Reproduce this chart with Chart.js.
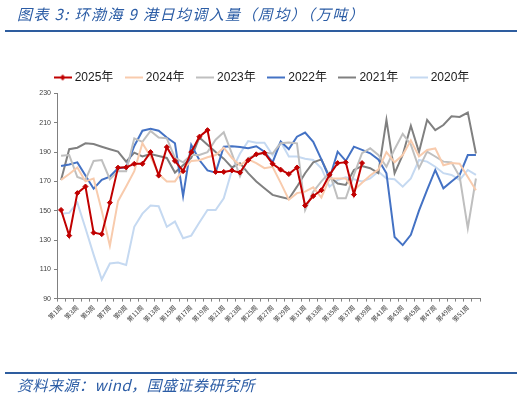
<!DOCTYPE html>
<html>
<head>
<meta charset="utf-8">
<script src="https://cdn.jsdelivr.net/npm/chart.js@4.4.1/dist/chart.umd.min.js"></script>
<style>
  html, body { margin: 0; padding: 0; background: #ffffff; }
  #wrap { position: relative; width: 526px; height: 398px; overflow: hidden; }
  #c { position: absolute; left: 0; top: 0; }
  .title { position: absolute; left: 17px; top: 4px; line-height: 20px; font-size: 15px; letter-spacing: 1.4px;
           font-style: italic; color: #2B5CA5; font-family: "Noto Sans CJK SC", "Liberation Sans", sans-serif; white-space: nowrap; }
  .src { position: absolute; left: 17px; top: 375px; line-height: 20px; font-size: 15px; letter-spacing: 0.5px;
         font-style: italic; color: #2B5CA5; font-family: "Noto Sans CJK SC", "Liberation Sans", sans-serif; white-space: nowrap; }
  .rule { position: absolute; left: 5px; width: 512px; height: 2px; background: #2E5D9F; }
</style>
</head>
<body>
<div id="wrap">
  <canvas id="c" width="526" height="398"></canvas>
  <div class="title">图表 3:  环渤海 9 港日均调入量（周均）（万吨）</div>
  <div class="rule" style="top:30px"></div>
  <div class="rule" style="top:372px"></div>
  <div class="src">资料来源：wind，国盛证券研究所</div>
</div>
<script>
// ---- data ----
const weeks = Array.from({length: 52}, (_, i) => '第' + (i + 1) + '周');
const seriesNames = ['2025年', '2024年', '2023年', '2022年', '2021年', '2020年'];
const yTicks = [90, 110, 130, 150, 170, 190, 210, 230];

const y2025 = [150.5, 133, 162, 166.5, 135, 134, 155.5, 179.4, 179.6, 182, 182, 190, 174, 193.4, 184, 177, 190, 200.5, 205, 176.5,
               176.5, 177.5, 176, 184.5, 188.5, 189.5, 182, 178, 175, 179.5, 153.5, 160, 164, 174.5, 182.5, 183, 161, 182.5];
const y2024 = [171, 175, 179.5, 170, 172, 150, 126, 156.5, 166.5, 177, 196, 187, 175, 170, 170, 178, 184, 184.5, 186.5, 188,
               193, 186, 181, 185, 182.5, 179, 180, 169, 157.5, 162, 163, 166, 159, 172, 172, 172, 164, 169, 174, 178,
               190, 183, 188, 198, 187, 191.5, 192.5, 181, 182.5, 182, 173, 164];
const y2023 = [187.5, 188, 173, 171, 184, 184.6, 171.5, 177, 177, 199.4, 197, 204.5, 200, 199.4, 186, 183, 188, 188, 190, 198.5,
               203.5, 189, 173.5, 186, 188, 189.5, 189, 196, 196.5, 196, 150.5, 163, 170, 176, 158.5, 158.5, 174.4, 189.2, 192.6, 188,
               180, 192, 202.5, 195, 179, 190.3, 187, 183.5, 183, 173.3, 138, 172];
const y2022 = [180.5, 181.5, 183, 174, 165, 171, 173.3, 179, 179.6, 194.2, 204.6, 206, 204.6, 200, 196, 160, 195, 184.6, 177.5, 176,
               193.7, 194, 193.5, 192.6, 194, 190.3, 183, 197.2, 192, 200.5, 203.3, 197, 185, 172, 190.3, 184, 193.7, 191.5, 189.2, 185,
               175.5, 132, 126.5, 133.5, 150, 164.2, 177.8, 165.3, 170, 174.4, 188, 188];
const y2021 = [171, 192, 193, 196, 195.5, 193.7, 192, 190.3, 183.5, 189.6, 187, 188.7, 187.4, 186, 176, 181, 186, 200, 195, 190,
               185.5, 179.5, 182.4, 175.6, 170, 165.3, 160.8, 159.4, 158, 166.4, 175.6, 183, 185, 173.3, 168.5, 167.6, 177.8, 180.5, 179, 175.6,
               212, 175.5, 188, 208, 190, 212, 205, 208.5, 214.5, 214, 217, 189];
const y2020 = [148, 148.5, 155.5, 138, 120, 103, 114, 114.6, 113, 139, 148, 153.5, 153, 139, 142.6, 131.2, 133, 142, 150.5, 150.5,
               158.5, 177.5, 189, 197.5, 196.4, 196.4, 188, 197, 187, 187, 185.5, 184.6, 179, 166.4, 171, 172.8, 171.5, 170, 172, 176.7,
               172, 171.5, 166.4, 172, 184.6, 183.5, 180, 175.6, 174.4, 171, 177.8, 174.4];

const colors = ['#C00000', '#F8CBAD', '#BFBFBF', '#4472C4', '#808080', '#C5D9F1'];
const values = [y2025, y2024, y2023, y2022, y2021, y2020];

// legend sample images
function sample(color, marker) {
  const c = document.createElement('canvas');
  c.width = 18; c.height = 8;
  const g = c.getContext('2d');
  g.strokeStyle = color; g.lineWidth = 2;
  g.beginPath(); g.moveTo(0, 4); g.lineTo(18, 4); g.stroke();
  if (marker) {
    g.fillStyle = color;
    g.beginPath(); g.moveTo(9, 1); g.lineTo(12, 4); g.lineTo(9, 7); g.lineTo(6, 4); g.closePath(); g.fill();
  }
  return c;
}
const samples = colors.map((c, i) => sample(c, i === 0));

const datasets = seriesNames.map((name, i) => ({
  label: name,
  data: values[i],
  borderColor: colors[i],
  backgroundColor: colors[i],
  borderWidth: 2,
  tension: 0,
  pointRadius: i === 0 ? 2.5 : 0,
  pointHoverRadius: i === 0 ? 2.5 : 0,
  pointStyle: 'rectRot',
  pointBackgroundColor: colors[i],
  pointBorderColor: colors[i],
  pointBorderWidth: 1,
  fill: false
}));

new Chart(document.getElementById('c'), {
  type: 'line',
  data: { labels: weeks, datasets: datasets },
  options: {
    responsive: false,
    animation: false,
    devicePixelRatio: 1,
    layout: { padding: { top: 57, left: 0, right: 0, bottom: 69.4 } },
    plugins: {
      tooltip: { enabled: false },
      title: { display: false },
      legend: {
        display: true,
        position: 'top',
        align: 'center',
        labels: {
          usePointStyle: true,
          pointStyleWidth: 12,
          padding: 14.5,
          color: '#1a1a1a',
          font: { size: 12, family: '"Liberation Sans", "Noto Sans CJK SC", sans-serif' },
          generateLabels: (chart) => {
            const items = Chart.defaults.plugins.legend.labels.generateLabels(chart);
            items.forEach((it) => { it.pointStyle = samples[it.datasetIndex]; });
            return items;
          }
        }
      }
    },
    scales: {
      x: {
        type: 'category',
        offset: true,
        grid: { display: true, drawOnChartArea: false, offset: true, tickLength: 3, color: '#808080' },
        border: { display: true, color: '#808080', width: 1 },
        ticks: {
          autoSkip: false,
          minRotation: 45,
          maxRotation: 45,
          padding: 2,
          color: '#404040',
          font: { size: 6.5, family: '"Noto Sans CJK SC", sans-serif' },
          callback: function (v, i) { return i % 2 === 0 ? weeks[i] : ''; }
        },
        afterFit: (s) => { s.height = 30; }
      },
      y: {
        position: 'left',
        min: 90,
        max: 230,
        afterBuildTicks: (s) => { s.ticks = yTicks.map(v => ({ value: v })); },
        grid: { display: true, drawOnChartArea: false, tickLength: 3, color: '#808080' },
        border: { display: true, color: '#808080', width: 1 },
        ticks: {
          padding: 3,
          color: '#404040',
          font: { size: 7, family: '"Liberation Sans", sans-serif' }
        },
        afterFit: (s) => { s.width = 57; }
      },
      yr: {
        position: 'right',
        display: true,
        min: 90,
        max: 230,
        grid: { display: false },
        border: { display: false },
        ticks: { display: false },
        afterFit: (s) => { s.width = 46; }
      }
    }
  }
});
</script>
</body>
</html>
